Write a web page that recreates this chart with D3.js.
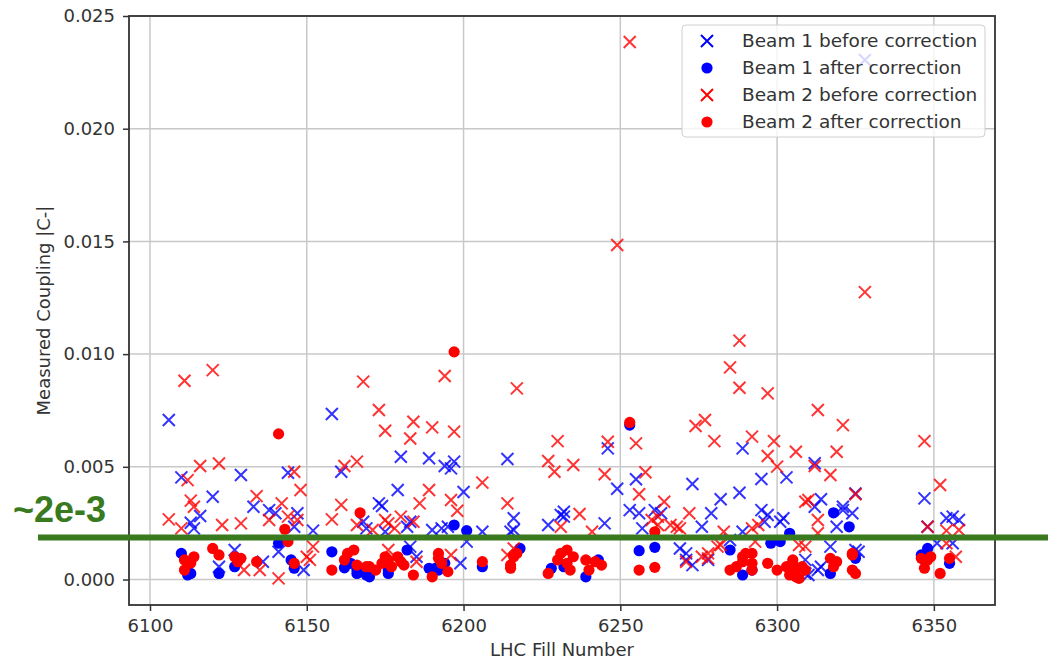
<!DOCTYPE html>
<html>
<head>
<meta charset="utf-8">
<script src="https://cdn.jsdelivr.net/npm/d3@7"></script>
<style>
  body { margin: 0; background: #fff; }
  svg { display: block; font-family: "DejaVu Sans", sans-serif; }
</style>
</head>
<body>
<div id="chart"></div>
<script>
// values are [fill number, coupling in units of 1e-3]
var beam1Before = [
  [6106,7.08],[6110,4.53],[6129,4.64],[6144,4.74],[6161,4.78],[6158,7.34],[6120,3.67],[6116,2.82],[6113,2.52],[6114,2.27],
  [6133,3.23],[6138,3.08],[6140,2.94],[6147,2.94],[6146,2.34],[6152,2.17],[6173,3.38],[6174,3.26],[6168,2.56],[6169,2.27],
  [6175,2.12],[6127,1.31],[6136,0.79],[6141,1.23],[6149,0.42],[6122,0.57],[6180,5.45],[6189,5.38],[6194,5.04],[6197,5.23],
  [6196,4.93],[6214,5.35],[6200,3.88],[6179,3.97],[6216,2.72],[6231,2.86],[6232,3.01],[6232,2.79],[6227,2.42],[6245,2.49],
  [6253,3.08],[6256,2.94],[6261,3.08],[6263,2.94],[6257,2.27],[6183,2.56],[6182,2.34],[6190,2.2],[6193,2.27],[6195,2.34],
  [6206,2.12],[6215,2.12],[6216,2.2],[6201,1.68],[6199,0.72],[6183,1.46],[6185,1.01],[6246,5.82],[6249,4.03],[6255,4.45],
  [6289,5.82],[6273,4.24],[6288,3.85],[6282,3.56],[6295,4.46],[6303,4.53],[6314,3.56],[6312,5.16],[6312,3.23],[6321,3.23],
  [6321,3.08],[6324,2.94],[6325,3.82],[6319,2.34],[6279,2.94],[6276,2.34],[6297,2.86],[6296,2.56],[6301,2.56],[6302,2.72],
  [6295,3.08],[6289,2.12],[6285,1.75],[6269,1.38],[6271,1.16],[6271,0.87],[6273,0.64],[6278,0.87],[6310,0.2],[6309,0.87],
  [6313,0.42],[6309,0.27],[6314,0.57],[6317,1.46],[6326,1.23],[6325,1.31],[6347,3.6],[6348,2.34],[6354,2.72],[6356,2.79],
  [6358,2.64],[6351,1.61],[6356,1.61],[6328,23.05]
];
var beam1After = [
  [6110,1.16],[6112,0.2],[6113,0.27],[6122,0.27],[6127,0.57],[6141,1.61],[6145,0.87],[6146,0.5],[6158,1.23],[6162,0.52],
  [6164,0.72],[6166,0.27],[6166,0.42],[6169,0.2],[6170,0.12],[6176,0.42],[6176,0.27],[6182,1.31],[6189,0.5],[6191,0.5],
  [6192,0.42],[6194,0.72],[6197,2.42],[6201,2.17],[6206,0.57],[6218,1.38],[6228,0.5],[6232,0.57],[6239,0.12],[6243,0.87],
  [6253,6.85],[6256,1.28],[6261,1.43],[6285,1.31],[6289,0.2],[6292,0.42],[6298,1.61],[6301,1.68],[6304,2.05],[6318,2.96],
  [6323,2.34],[6317,0.27],[6325,0.94],[6346,1.09],[6347,0.87],[6348,1.38],[6355,0.72]
];
var beam2Before = [
  [6253,23.85],[6249,14.84],[6328,12.75],[6288,10.6],
  [6111,8.82],[6120,9.29],[6168,8.78],[6173,7.52],[6175,6.6],
  [6116,5.04],[6122,5.15],[6112,4.41],[6146,4.78],[6162,5.04],[6166,5.23],
  [6148,3.97],[6134,3.7],[6113,3.5],[6114,3.23],[6106,2.67],[6110,2.27],[6123,2.42],[6129,2.49],[6142,3.38],[6138,2.64],
  [6144,2.79],[6147,2.64],[6158,2.67],[6161,3.31],
  [6130,0.42],[6135,0.42],[6141,0.05],[6151,0.87],[6150,1.01],[6152,1.46],
  [6184,7.0],[6183,6.26],[6190,6.75],[6197,6.56],[6194,9.03],[6217,8.48],
  [6255,6.04],[6230,6.14],[6227,5.26],[6229,4.78],[6235,5.08],[6246,6.11],[6245,4.67],[6258,4.76],[6256,3.78],[6264,3.45],
  [6206,4.3],[6189,3.97],[6186,3.38],[6196,3.53],[6198,3.05],[6214,3.38],[6237,2.91],[6260,2.64],[6262,2.79],[6175,2.64],
  [6180,2.79],[6184,2.56],[6241,2.12],
  [6166,2.42],[6171,2.2],[6176,2.49],[6178,2.27],[6176,1.31],[6185,0.79],[6196,1.09],[6214,1.09],[6216,1.38],[6231,2.34],
  [6285,9.41],[6288,8.51],[6297,8.26],[6274,6.81],[6277,7.08],[6280,6.14],[6292,6.34],[6299,6.14],[6297,5.48],[6300,5.01],
  [6306,5.67],[6313,7.52],[6321,6.85],[6319,5.67],[6312,5.04],[6317,4.64],[6347,6.14],[6352,4.19],
  [6309,3.45],[6310,3.53],[6313,2.64],[6325,3.78],[6272,2.94],[6268,2.34],[6292,2.27],[6294,2.42],[6313,2.05],[6283,2.12],
  [6348,2.34],[6354,2.17],[6358,2.2],
  [6276,1.01],[6278,0.94],[6281,1.46],[6293,1.68],[6262,2.42],[6266,2.42],[6269,2.27],[6271,0.79],[6278,1.16],[6282,1.53],
  [6307,1.53],[6309,1.46],[6354,1.61],[6357,1.01]
];
var beam2After = [
  [6197,10.1],[6141,6.46],[6253,6.97],[6143,2.23],[6167,2.96],[6144,1.68],
  [6111,0.87],[6113,0.73],[6111,0.42],[6114,1.01],[6120,1.38],[6122,1.09],[6127,1.01],[6129,0.94],[6128,0.79],[6134,0.79],
  [6146,0.72],[6158,0.42],[6163,1.16],[6165,1.31],[6162,0.87],[6166,0.64],[6169,0.57],[6172,0.42],[6175,1.01],[6174,0.72],
  [6170,0.57],[6176,0.87],[6177,0.57],[6179,1.01],[6180,0.79],[6181,0.64],[6184,0.2],[6190,0.12],[6192,0.94],[6192,1.16],
  [6193,0.72],[6195,0.35],
  [6206,0.79],[6215,0.5],[6215,0.64],[6216,1.01],[6217,1.16],[6227,0.27],[6230,0.87],[6231,1.16],[6233,1.31],[6233,0.72],
  [6234,0.42],[6235,1.01],[6239,0.87],[6240,0.42],[6242,0.79],[6244,0.64],
  [6256,0.42],[6261,0.54],[6261,2.12],
  [6285,0.42],[6287,0.57],[6289,0.79],[6289,1.01],[6290,1.16],[6292,1.16],[6292,0.72],[6292,0.42],[6297,0.72],[6300,0.42],
  [6303,0.57],[6304,0.2],[6305,0.72],[6305,0.87],[6306,0.42],[6306,0.12],[6307,0.05],[6308,0.57],[6309,0.42],
  [6317,0.94],[6318,0.57],[6319,0.79],[6324,1.16],[6324,1.09],[6324,0.42],[6325,0.27],
  [6346,0.94],[6347,0.5],[6348,0.87],[6349,1.01],[6352,0.27],[6355,0.94]
];

var xTicks = [6100, 6150, 6200, 6250, 6300, 6350];
var yTicks = [0, 0.005, 0.010, 0.015, 0.020, 0.025];
var legendLabels = ["Beam 1 before correction", "Beam 1 after correction",
                    "Beam 2 before correction", "Beam 2 after correction"];
var thresholdValue = 0.00187;
var thresholdLabel = "~2e-3";

var width = 1048, height = 661;
var margin = {left: 129, right: 53, top: 16, bottom: 56};
var green = "#3a7a1f";

var svg = d3.select("#chart").append("svg")
    .attr("width", width)
    .attr("height", height);

var x = d3.scaleLinear().domain([6093.3, 6369.5]).range([margin.left, width - margin.right]);
var y = d3.scaleLinear().domain([-0.00113, 0.025]).range([height - margin.bottom, margin.top]);

// grid
svg.append("g").selectAll("line").data(xTicks).join("line")
    .attr("x1", d => x(d)).attr("x2", d => x(d))
    .attr("y1", y.range()[1]).attr("y2", y.range()[0])
    .attr("stroke", "#c8c8c8").attr("stroke-width", 1.5);
svg.append("g").selectAll("line").data(yTicks).join("line")
    .attr("x1", x.range()[0]).attr("x2", x.range()[1])
    .attr("y1", d => y(d)).attr("y2", d => y(d))
    .attr("stroke", "#c8c8c8").attr("stroke-width", 1.5);

// axes
var xAxis = svg.append("g")
    .attr("transform", "translate(0," + y.range()[0] + ")")
    .call(d3.axisBottom(x).tickValues(xTicks).tickFormat(d3.format("d")).tickSize(6).tickPadding(8));
var yAxis = svg.append("g")
    .attr("transform", "translate(" + x.range()[0] + ",0)")
    .call(d3.axisLeft(y).tickValues(yTicks).tickFormat(d3.format(".3f")).tickSize(6).tickPadding(8));
[xAxis, yAxis].forEach(function(a) {
  a.select(".domain").remove();
  a.selectAll("line").attr("stroke", "#333").attr("stroke-width", 1.5);
  a.selectAll("text").attr("fill", "#333").style("font-size", "18px")
    .style("font-family", "DejaVu Sans, sans-serif");
});

// markers
var xSize = 6;
function drawCrosses(data, color) {
  var g = svg.append("g");
  g.selectAll("path").data(data).join("path")
    .attr("transform", d => "translate(" + x(d[0]) + "," + y(d[1] / 1000) + ")")
    .attr("d", "M" + (-xSize) + "," + (-xSize) + "L" + xSize + "," + xSize +
               "M" + (-xSize) + "," + xSize + "L" + xSize + "," + (-xSize))
    .attr("stroke", color).attr("stroke-width", 2).attr("fill", "none")
    .attr("opacity", 0.8);
}
function drawDots(data, color) {
  svg.append("g").selectAll("circle").data(data).join("circle")
    .attr("cx", d => x(d[0]))
    .attr("cy", d => y(d[1] / 1000))
    .attr("r", 5.6)
    .attr("fill", color);
}
drawCrosses(beam1Before, "#0000ff");
drawDots(beam1After, "#0000ff");
drawCrosses(beam2Before, "#ff0000");
drawDots(beam2After, "#ff0000");

// frame
svg.append("rect")
    .attr("x", x.range()[0]).attr("y", y.range()[1])
    .attr("width", x.range()[1] - x.range()[0])
    .attr("height", y.range()[0] - y.range()[1])
    .attr("fill", "none").attr("stroke", "#333").attr("stroke-width", 1.8);

// axis labels
svg.append("text")
    .attr("x", (x.range()[0] + x.range()[1]) / 2)
    .attr("y", 656)
    .attr("text-anchor", "middle")
    .attr("fill", "#333")
    .style("font-size", "18px")
    .text("LHC Fill Number");
svg.append("text")
    .attr("transform", "translate(50," + (y.range()[0] + y.range()[1]) / 2 + ") rotate(-90)")
    .attr("text-anchor", "middle")
    .attr("fill", "#333")
    .style("font-size", "18px")
    .text("Measured Coupling |C-|");

// legend
var leg = svg.append("g").attr("transform", "translate(682,25)");
leg.append("rect")
    .attr("width", 303).attr("height", 112).attr("rx", 4)
    .attr("fill", "white").attr("fill-opacity", 0.8)
    .attr("stroke", "#d0d0d0").attr("stroke-width", 1);
var legendStyles = [
  {kind: "x", color: "#0000ff"}, {kind: "o", color: "#0000ff"},
  {kind: "x", color: "#ff0000"}, {kind: "o", color: "#ff0000"}
];
legendLabels.forEach(function(label, i) {
  var row = leg.append("g").attr("transform", "translate(0," + (16 + i * 27) + ")");
  var s = legendStyles[i];
  if (s.kind === "x") {
    row.append("path")
      .attr("transform", "translate(25,0)")
      .attr("d", "M-6,-6L6,6M-6,6L6,-6")
      .attr("stroke", s.color).attr("stroke-width", 2).attr("fill", "none");
  } else {
    row.append("circle").attr("cx", 25).attr("cy", 0).attr("r", 5.6).attr("fill", s.color);
  }
  row.append("text")
    .attr("x", 60).attr("y", 0).attr("dy", "0.35em")
    .attr("fill", "#333")
    .style("font-size", "18.5px")
    .text(label);
});

// threshold annotation
svg.append("line")
    .attr("x1", 38).attr("x2", width)
    .attr("y1", y(thresholdValue)).attr("y2", y(thresholdValue))
    .attr("stroke", green).attr("stroke-width", 6);
svg.append("text")
    .attr("x", 13).attr("y", 522)
    .attr("fill", green)
    .style("font-family", "Liberation Sans, Arial, sans-serif")
    .style("font-weight", "bold")
    .style("font-size", "36px")
    .text(thresholdLabel);
</script>
</body>
</html>
